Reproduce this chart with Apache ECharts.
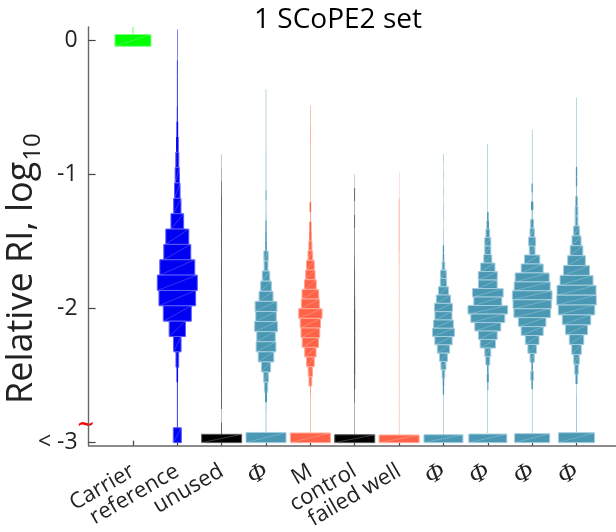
<!DOCTYPE html>
<html>
<head>
<meta charset="utf-8">
<script src="https://cdn.jsdelivr.net/npm/echarts@6/dist/echarts.min.js"></script>
<style>
  html, body { margin: 0; padding: 0; background: #fff; }
  #chart { width: 616px; height: 532px; }
</style>
</head>
<body>
<div id="chart"></div>
<script>
// Channel labels along the x axis (positions 1..11)
const categories = ['Carrier', 'reference', 'unused', 'Φ', 'M', 'control', 'failed well', 'Φ', 'Φ', 'Φ', 'Φ'];

// Histogram bins per channel: upper edge of the first bin and bin size (log10 RI)
const binStart = [0.132, 0.0815, -0.85, -0.365, -0.487, -1.0, -0.98, -0.847, -0.773, -0.667, -0.426];
const binStep  = [0.088, 0.1145, 0.1, 0.0753, 0.0721, 0.1, 0.1, 0.0619, 0.0634, 0.0667, 0.0737];

// Bin counts (relative density), top bin first
const carrierCounts = [0.6, 36];
const referenceCounts = [0.5, 0.5, 0.8, 0.8, 0.8, 1.0, 1.7, 2.5, 3.0, 4.3, 5.5, 7.3, 12.7, 23, 27, 35, 40, 36.7, 28, 16.3, 7.5, 2.7, 1.5, 0.8, 0.8, 0.8];
const unusedCounts = [0.2, 0.3, 0.5, 0.6, 0.6, 0.6, 0.6, 0.6, 0.6, 0.6, 0.6, 0.6, 0.6, 0.6, 0.6, 0.6, 0.6, 0.6, 0.6, 0.25, 0.6];
const phi1Counts = [0.4, 0.4, 0.4, 0.4, 0.4, 0.4, 0.5, 0.5, 0.5, 0.5, 0.9, 0.5, 0.6, 1.3, 1.5, 1.7,
                    4.3, 3.8, 7.5, 10.7, 14, 21.8, 20.5, 22.8, 18.5, 19.8, 15.6, 9.2, 4.7, 3.3, 2.0,
                    0.6, 0.5, 0.5];
const mCounts = [0.4, 0.4, 0.5, 0.5, 0.4, 0.4, 0.4, 0.4, 0.4, 0.4, 1.5, 0.6, 2.0, 2.3,
                 3.0, 4.7, 7.7, 9.3, 11.7, 16.7, 18, 23.3, 20.3, 18.7, 16.3, 11.3, 7.7, 4.3, 2.7,
                 0.6, 0.4, 0.4, 0.4, 0.4];
const controlCounts = [0.2, 0.6, 0.3, 0.6, 0.4, 0.4, 0.5, 0.6, 0.6, 0.7, 0.8, 0.8, 0.8, 0.8, 0.8, 0.7, 0.5, 0.3, 0.3, 0.3];
const failedCounts = [0.2, 0.2, 0.5, 0.5, 0.5, 0.5, 0.4, 0.3, 0.3, 0.3, 0.3, 0.3, 0.3, 0.3, 0.3, 0.3, 0.3, 0.3, 0.3, 0.3];
const phi2Counts = [0.4, 0.3, 0.4, 0.3, 0.4, 0.3, 0.4, 0.4, 0.3, 0.4, 0.4, 1.3, 1.5,
                    2.7, 5.7, 6.3, 10, 14.3, 18, 17, 19.8, 22, 17.3, 12.3, 8, 5, 2.7,
                    1.5, 1.3, 0.4, 0.4, 0.4, 0.4, 0.4];
const phi3Counts = [0.4, 0.4, 0.4, 0.4, 0.4, 0.4, 0.4, 0.4, 1.5, 2.3,
                    3.7, 6, 6, 8, 14.3, 19, 18.7, 30.7, 28, 39.7, 34, 26, 18.7, 15.3, 6, 4,
                    1.5, 2.0, 1.0, 0.4, 0.4, 0.4, 0.4, 0.4];
const phi4Counts = [0.4, 0.4, 0.4, 0.4, 0.4, 0.4, 1.3, 0.6, 2.3, 0.8, 3, 4.3, 7, 5.7,
                    15.3, 22, 34, 36, 39.7, 38.3, 36.5, 27.5, 22, 13.7, 8.5, 4.2,
                    1.5, 2.7, 1.5, 0.4, 0.4, 0.4, 0.4, 0.4];
const phi5Counts = [0.4, 0.4, 0.4, 0.4, 0.4, 0.4, 0.4, 1.3, 1.3, 0.6,
                    2, 2.7, 2.7, 5.7, 9, 12.7, 17.7, 26, 33, 39, 39.5, 36.5, 28.5, 22, 14.5, 9.5, 5.5, 3.5, 2,
                    0.4, 0.5, 0.5, 0.5, 0.5];

const binCounts = [carrierCounts, referenceCounts, unusedCounts, phi1Counts, mCounts,
                   controlCounts, failedCounts, phi2Counts, phi3Counts, phi4Counts, phi5Counts];

// Values below the -3 floor, collected in one bin per channel
const belowCounts = [0, 8, 40, 40, 40, 40, 40, 39, 38, 35, 36];
const belowTop = [null, -2.889, -2.938, -2.924, -2.928, -2.941, -2.943, -2.941, -2.936, -2.933, -2.926];

const yTicks = [-3, -2, -1, 0];
const xTicks = categories.map((_, i) => i + 1);

// Appearance
const palette = {
  green:  { fill: '#00ff00', edge: '#7dff7d', diag: 'rgba(255,255,255,0.30)' },
  blue:   { fill: '#0000f2', edge: '#5a5aff', diag: 'rgba(255,255,255,0.25)' },
  black:  { fill: '#000000', edge: '#5a5a5a', diag: 'rgba(255,255,255,0.30)' },
  teal:   { fill: '#4a98b4', edge: '#a3cddc', diag: 'rgba(255,255,255,0.28)' },
  salmon: { fill: '#ff6347', edge: '#ffa898', diag: 'rgba(255,255,255,0.28)' }
};
const channelStyle = ['green', 'blue', 'black', 'teal', 'salmon', 'black', 'salmon', 'teal', 'teal', 'teal', 'teal'];
const COUNT_TO_X = 1 / 44.36;   // bar width per density unit, in axis units
const FLOOR = -3;

function violinData(i) {
  const cat = i + 1;
  const items = binCounts[i].map((c, k) => {
    const top = binStart[i] - k * binStep[i];
    return [cat, top, top - binStep[i], c];
  });
  if (belowCounts[i] > 0) items.push([cat, belowTop[i], FLOOR, belowCounts[i]]);
  return items;
}

function makeRenderer(st) {
  return function (params, api) {
    const x = api.value(0), top = api.value(1), bot = api.value(2), c = api.value(3);
    const half = c * COUNT_TO_X / 2;
    const p0 = api.coord([x - half, top]);
    const p1 = api.coord([x + half, bot]);
    const shape = { x: p0[0], y: p0[1], width: p1[0] - p0[0], height: p1[1] - p0[1] };
    const w = shape.width;
    const kids = [{
      type: 'rect', shape,
      style: { fill: st.fill, stroke: w > 2.5 ? st.edge : null, lineWidth: 1 }
    }];
    if (w > 4) {
      kids.push({
        type: 'line',
        shape: { x1: shape.x, y1: shape.y + shape.height, x2: shape.x + w, y2: shape.y },
        style: { stroke: st.diag, lineWidth: 0.8 }
      });
    }
    return { type: 'group', children: kids };
  };
}

const series = binCounts.map((_, i) => ({
  type: 'custom',
  clip: true,
  renderItem: makeRenderer(palette[channelStyle[i]]),
  encode: { x: 0, y: [1, 2] },
  data: violinData(i),
  silent: true
}));

const chart = echarts.init(document.getElementById('chart'), null, { renderer: 'canvas' });
const textColor = '#222222';
const axisColor = '#666666';

chart.setOption({
  animation: false,
  backgroundColor: '#ffffff',
  grid: { left: 88.6, right: 0, top: 27, bottom: 84, containLabel: false },
  xAxis: {
    type: 'value', min: 0, max: 11.89,
    axisLine: { show: true, onZero: false, lineStyle: { color: axisColor, width: 1.6 } },
    axisTick: { show: true, inside: true, length: 5, customValues: xTicks, lineStyle: { color: '#444', width: 1.2 } },
    splitLine: { show: false },
    axisLabel: {
      customValues: xTicks,
      rotate: 30,
      margin: 24,
      fontSize: 22,
      fontFamily: 'Open Sans',
      color: textColor,
      formatter: v => {
        const name = categories[Math.round(v) - 1] || '';
        return name === 'Φ' ? '{phi|Φ}' : name;
      },
      rich: {
        phi: { fontFamily: 'Liberation Serif', fontStyle: 'italic', fontSize: 25, color: textColor }
      }
    }
  },
  yAxis: {
    type: 'value', min: -3.022, max: 0.1,
    axisLine: { show: true, onZero: false, lineStyle: { color: axisColor, width: 1.4 } },
    axisTick: { show: true, inside: true, length: 7, customValues: yTicks, lineStyle: { color: '#444', width: 1.2 } },
    splitLine: { show: false },
    axisLabel: {
      customValues: yTicks,
      margin: 11,
      fontSize: 23,
      fontFamily: 'Open Sans',
      color: textColor,
      formatter: v => (v === FLOOR ? '< -3' : String(v))
    }
  },
  series
});

// Title, y-axis name with subscript, and the axis-break mark
const ctx = document.createElement('canvas').getContext('2d');
ctx.font = '36px "Open Sans"';
const yName = 'Relative RI, log';
const yNameLen = ctx.measureText(yName).width;
const nameStartY = 404;
const breakPos = chart.convertToPixel({ gridIndex: 0 }, [0, -2.87]);

chart.setOption({
  graphic: [
    {
      type: 'text', x: 338, y: 20,
      style: { text: '1 SCoPE2 set', font: '28px "Open Sans"', fill: '#000', align: 'center', verticalAlign: 'middle' }
    },
    {
      type: 'text', x: 22, y: nameStartY, rotation: Math.PI / 2,
      style: { text: yName, font: '36px "Open Sans"', fill: textColor, align: 'left', verticalAlign: 'middle' }
    },
    {
      type: 'text', x: 33, y: nameStartY - yNameLen - 1, rotation: Math.PI / 2,
      style: { text: '10', font: '24px "Open Sans"', fill: textColor, align: 'left', verticalAlign: 'middle' }
    },
    {
      type: 'text', x: breakPos[0] - 3, y: breakPos[1],
      style: { text: '~', font: 'bold 22px "DejaVu Sans"', fill: '#ff0000', align: 'center', verticalAlign: 'middle' }
    }
  ]
});
</script>
</body>
</html>
